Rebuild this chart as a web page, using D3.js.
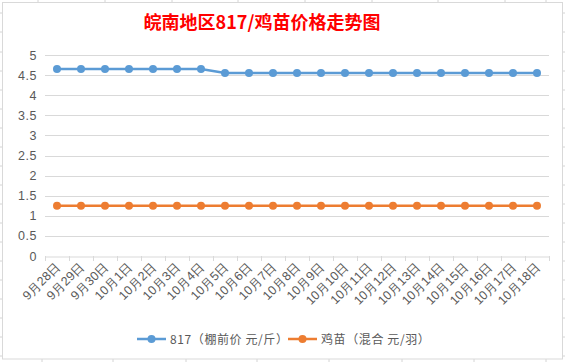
<!DOCTYPE html>
<html>
<head>
<meta charset="utf-8">
<style>
  body { margin: 0; background: #fff; }
  svg { display: block; font-family: "Noto Sans CJK SC", "Microsoft YaHei", sans-serif; }
  .grid line { stroke: #d9d9d9; stroke-width: 1px; }
  .tick-label { fill: #595959; font-size: 12.5px; }
</style>
</head>
<body>
<svg width="565" height="362"></svg>
<script src="https://cdn.jsdelivr.net/npm/d3@7/dist/d3.min.js"></script>
<script>
// 数据
var dates = ["9月28日", "9月29日", "9月30日", "10月1日", "10月2日", "10月3日", "10月4日",
             "10月5日", "10月6日", "10月7日", "10月8日", "10月9日", "10月10日", "10月11日",
             "10月12日", "10月13日", "10月14日", "10月15日", "10月16日", "10月17日", "10月18日"];
var price817 = [4.65, 4.65, 4.65, 4.65, 4.65, 4.65, 4.65,
                4.55, 4.55, 4.55, 4.55, 4.55, 4.55, 4.55,
                4.55, 4.55, 4.55, 4.55, 4.55, 4.55, 4.55];
var priceChick = [1.25, 1.25, 1.25, 1.25, 1.25, 1.25, 1.25,
                  1.25, 1.25, 1.25, 1.25, 1.25, 1.25, 1.25,
                  1.25, 1.25, 1.25, 1.25, 1.25, 1.25, 1.25];
var yTicks = [0, 0.5, 1, 1.5, 2, 2.5, 3, 3.5, 4, 4.5, 5];
var seriesNames = ["817（棚前价 元/斤）", "鸡苗（混合 元/羽）"];
var colors = ["#5b9bd5", "#ed7d31"];

var svg = d3.select("svg");

// 背景的表格线
var cells = svg.append("g").attr("stroke", "#d4d4d4");
[13, 32, 52, 71, 90, 109, 128, 147, 166, 185, 204, 223, 242, 261, 280, 299, 318, 337, 356].forEach(function(y) {
    cells.append("line").attr("x1", 0).attr("x2", 3).attr("y1", y).attr("y2", y);
    cells.append("line").attr("x1", 562).attr("x2", 565).attr("y1", y).attr("y2", y);
});
[38, 105, 172, 238, 305, 372, 438, 505, 546].forEach(function(x) {
    cells.append("line").attr("x1", x).attr("x2", x).attr("y1", 0).attr("y2", 3);
});
[42, 113, 186, 257, 329, 402, 474, 546].forEach(function(x) {
    cells.append("line").attr("x1", x).attr("x2", x).attr("y1", 359).attr("y2", 362);
});

// 图表边框
svg.append("rect")
    .attr("x", 2.5).attr("y", 2.5)
    .attr("width", 560).attr("height", 356.5)
    .attr("fill", "#fff")
    .attr("stroke", "#d9d9d9");

// 标题
svg.append("text")
    .attr("x", 262).attr("y", 29)
    .attr("text-anchor", "middle")
    .attr("fill", "#ff0000")
    .attr("font-size", "18px")
    .attr("font-weight", "bold")
    .text("皖南地区817/鸡苗价格走势图");

var x = d3.scaleBand().domain(dates).range([45, 549]);
var y = d3.scaleLinear().domain([0, 5]).range([256, 55]);

// 网格线
svg.append("g").attr("class", "grid")
    .selectAll("line").data(yTicks.slice(1)).enter().append("line")
    .attr("x1", 45).attr("x2", 549)
    .attr("y1", function(d) { return Math.round(y(d)) + 0.5; })
    .attr("y2", function(d) { return Math.round(y(d)) + 0.5; });

// Y轴
var yAxis = svg.append("g")
    .attr("transform", "translate(45,0)")
    .call(d3.axisLeft(y).tickValues(yTicks).tickSize(0).tickPadding(8).tickFormat(d3.format("")));
yAxis.select(".domain").remove();
yAxis.selectAll("text").attr("class", "tick-label").attr("font-family", null).attr("font-size", null)
    .style("letter-spacing", "0.5px");

// X轴
var xAxis = svg.append("g")
    .attr("transform", "translate(0," + (Math.round(y(0)) + 0.5) + ")")
    .call(d3.axisBottom(x).tickSize(0).tickPadding(0));
xAxis.select(".domain").attr("stroke", "#d9d9d9");
xAxis.selectAll("text")
    .attr("class", "tick-label")
    .attr("font-family", null).attr("font-size", null)
    .style("font-size", "12.5px")
    .attr("text-anchor", "end")
    .attr("dy", null).attr("y", 0)
    .attr("transform", "translate(4,11) rotate(-45)");
// 刻度线在类别之间
svg.append("g").selectAll("line")
    .data(dates.concat(["end"])).enter().append("line")
    .attr("stroke", "#d9d9d9")
    .attr("x1", function(d, i) { return Math.round(45 + i * x.step()) + 0.5; })
    .attr("x2", function(d, i) { return Math.round(45 + i * x.step()) + 0.5; })
    .attr("y1", 256).attr("y2", 261);

// 折线
var series = [price817, priceChick];
var line = d3.line()
    .x(function(d, i) { return x(dates[i]) + x.bandwidth() / 2; })
    .y(function(d) { return y(d); });

series.forEach(function(vals, k) {
    svg.append("path")
        .datum(vals)
        .attr("fill", "none")
        .attr("stroke", colors[k])
        .attr("stroke-width", 2.5)
        .attr("d", line);
    svg.append("g").selectAll("circle")
        .data(vals).enter().append("circle")
        .attr("cx", function(d, i) { return x(dates[i]) + x.bandwidth() / 2; })
        .attr("cy", function(d) { return y(d); })
        .attr("r", 4)
        .attr("fill", colors[k]);
});

// 图例
var legendX = [137, 288];
seriesNames.forEach(function(name, k) {
    var g = svg.append("g").attr("transform", "translate(" + legendX[k] + ",339)");
    g.append("line").attr("x1", 0).attr("x2", 29).attr("y1", 0).attr("y2", 0)
        .attr("stroke", colors[k]).attr("stroke-width", 2.5);
    g.append("circle").attr("cx", 14.5).attr("cy", 0).attr("r", 4).attr("fill", colors[k]);
    g.append("text").attr("x", 33).attr("y", 4.5)
        .attr("fill", "#595959").attr("font-size", "12px")
        .style("letter-spacing", "0.6px")
        .text(name);
});
</script>
</body>
</html>
